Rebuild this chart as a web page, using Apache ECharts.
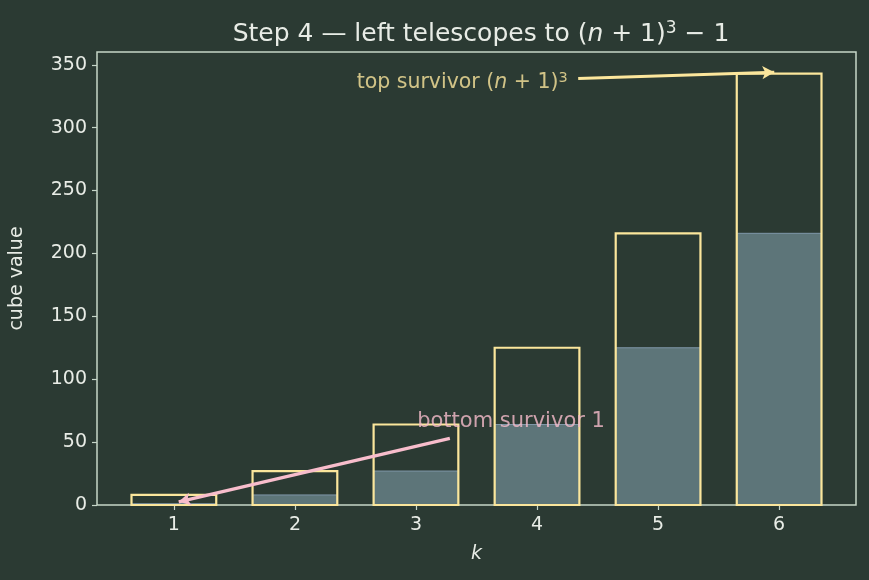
<!DOCTYPE html>
<html>
<head>
<meta charset="utf-8">
<script src="https://cdn.jsdelivr.net/npm/echarts@6/dist/echarts.min.js"></script>
<style>
  html, body { margin: 0; padding: 0; background: #2b3a33; }
  #chart { width: 869px; height: 580px; }
</style>
</head>
<body>
<div id="chart"></div>
<script>
  // data
  var ks = [1, 2, 3, 4, 5, 6];
  var cubes = [1, 8, 27, 64, 125, 216];          // k^3, filled
  var nextCubes = [8, 27, 64, 125, 216, 343];    // (k+1)^3, outlined
  var xTicks = [1, 2, 3, 4, 5, 6];
  var yTicks = [0, 50, 100, 150, 200, 250, 300, 350];

  var BAR_W = 0.7;
  var txt = '#e8ece6';
  var frame = '#c6d6c8';
  var yel = '#fbe69c';
  var pink = '#f8bdcc';
  var FF = 'DejaVu Sans';

  function barItem(fill, stroke, lw) {
    return function (params, api) {
      var k = api.value(0), v = api.value(1);
      var p0 = api.coord([k - BAR_W / 2, v]);
      var p1 = api.coord([k + BAR_W / 2, 0]);
      return {
        type: 'rect',
        shape: { x: p0[0], y: p0[1], width: p1[0] - p0[0], height: p1[1] - p0[1] },
        style: { fill: fill, stroke: stroke, lineWidth: lw }
      };
    };
  }

  var myCharts = echarts.init(document.getElementById('chart'));
  var option = {
    backgroundColor: '#2b3a33',
    animation: false,
    title: {
      text: 'Step 4 — left telescopes to ({i|n}{r| + 1)}{sup|3}{r| − 1}',
      left: 476, top: 15, textAlign: 'center',
      textStyle: {
        color: txt, fontSize: 25, fontFamily: FF, fontWeight: 'normal',
        rich: {
          i: { fontStyle: 'italic', fontSize: 25, color: txt, fontFamily: FF },
          r: { fontSize: 25, color: txt, fontFamily: FF },
          sup: { fontSize: 17, color: txt, fontFamily: FF, verticalAlign: 'top', padding: [0, 0, 11, 0] }
        }
      }
    },
    grid: {
      left: 96, right: 13, top: 52, bottom: 75,
      show: true, borderColor: frame, borderWidth: 1.5, backgroundColor: 'transparent'
    },
    xAxis: {
      type: 'value', min: 0.365, max: 6.635,
      name: 'k', nameLocation: 'middle', nameGap: 40,
      nameTextStyle: { color: txt, fontSize: 19, fontStyle: 'italic', fontFamily: FF },
      axisLine: { show: false },
      axisTick: { show: true, customValues: xTicks, length: 5, lineStyle: { color: frame, width: 1.2 } },
      axisLabel: { customValues: xTicks, color: txt, fontSize: 19, margin: 11, fontFamily: FF },
      splitLine: { show: false }
    },
    yAxis: {
      type: 'value', min: 0, max: 360.15,
      name: 'cube value', nameLocation: 'middle', nameGap: 70,
      nameTextStyle: { color: txt, fontSize: 19, fontFamily: FF },
      axisLine: { show: false },
      axisTick: { show: true, customValues: yTicks, length: 5, lineStyle: { color: frame, width: 1.2 } },
      axisLabel: { customValues: yTicks, color: txt, fontSize: 19, margin: 10, fontFamily: FF },
      splitLine: { show: false }
    },
    series: [
      {
        name: 'k^3',
        type: 'custom',
        renderItem: barItem('#5d7579', '#7f97a8', 1),
        data: ks.map(function (k, i) { return [k, cubes[i]]; }),
        z: 2
      },
      {
        name: '(k+1)^3',
        type: 'custom',
        renderItem: barItem('transparent', yel, 2.2),
        data: ks.map(function (k, i) { return [k, nextCubes[i]]; }),
        z: 3
      },
      {
        // annotations
        type: 'scatter',
        symbolSize: 0,
        z: 5,
        data: [
          {
            value: [2.51, 336],
            label: {
              show: true, position: 'right', distance: 0,
              formatter: 'top survivor ({i|n}{r| + 1)}{sup|3}',
              color: yel, fontSize: 20.5, fontFamily: FF,
              rich: {
                i: { fontStyle: 'italic', fontSize: 20.5, color: yel, fontFamily: FF },
                r: { fontSize: 20.5, color: yel, fontFamily: FF },
                sup: { fontSize: 14.5, color: yel, fontFamily: FF, verticalAlign: 'top', padding: [0, 0, 9, 0] }
              }
            }
          },
          {
            value: [3.01, 66],
            label: {
              show: true, position: 'right', distance: 0,
              formatter: 'bottom survivor 1',
              color: pink, fontSize: 21, fontFamily: FF
            }
          }
        ],
        markLine: {
          silent: true,
          symbol: ['none', 'arrow'],
          symbolSize: [10, 12],
          label: { show: false },
          data: [
            [
              { coord: [4.34, 339], lineStyle: { color: yel, width: 3, type: 'solid' } },
              { coord: [5.96, 344] }
            ],
            [
              { coord: [3.28, 53], lineStyle: { color: pink, width: 3.2, type: 'solid' } },
              { coord: [1.04, 2.5] }
            ]
          ]
        }
      }
    ]
  };
  myCharts.setOption(option);
</script>
</body>
</html>
